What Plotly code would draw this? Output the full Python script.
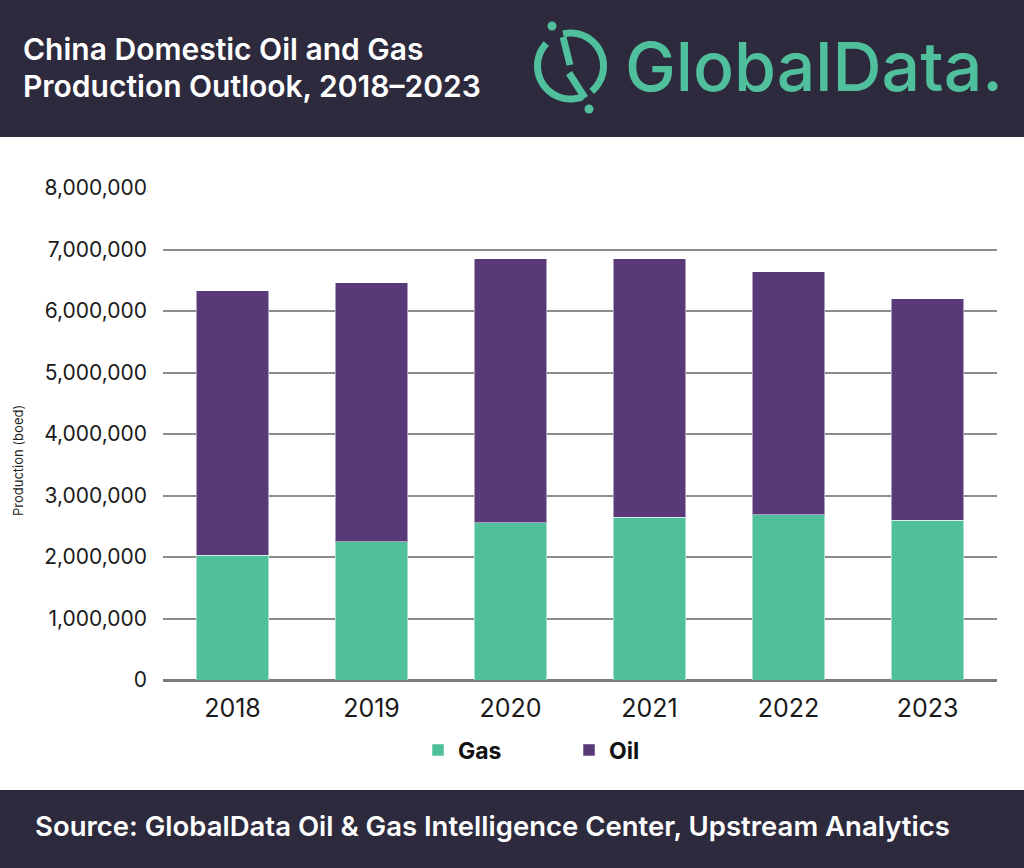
import math
import plotly.graph_objects as go

# ---- data ----
years = ["2018", "2019", "2020", "2021", "2022", "2023"]
gas = [2030000, 2250000, 2560000, 2650000, 2690000, 2600000]
oil = [4300000, 4210000, 4290000, 4200000, 3950000, 3600000]
y_ticks = [0, 1000000, 2000000, 3000000, 4000000, 5000000, 6000000, 7000000, 8000000]

GREEN = "#4fbf9c"
PURPLE = "#583a78"
DARK = "#2d2a3e"
FONT = "Inter"

WIDTH, HEIGHT = 1024, 868
L, R, T, B = 163, 27, 188, 188
PW = WIDTH - L - R
PH = HEIGHT - T - B


def px(x, y):
    return (x - L) / PW, (HEIGHT - B - y) / PH


fig = go.Figure()
fig.add_trace(go.Bar(x=years, y=gas, name="Gas",
                     marker=dict(color=GREEN, line=dict(width=1, color="rgba(255,255,255,0.5)"))))
fig.add_trace(go.Bar(x=years, y=oil, name="Oil",
                     marker=dict(color=PURPLE, line=dict(width=1, color="rgba(255,255,255,0.5)"))))

shapes = []
# header and footer bands
x0, y0 = px(0, 137)
x1, y1 = px(WIDTH, 0)
shapes.append(dict(type="rect", xref="paper", yref="paper", x0=x0, x1=x1, y0=y0, y1=y1,
                   fillcolor=DARK, line=dict(width=0), layer="below"))
x0, y0 = px(0, HEIGHT)
x1, y1 = px(WIDTH, 790)
shapes.append(dict(type="rect", xref="paper", yref="paper", x0=x0, x1=x1, y0=y0, y1=y1,
                   fillcolor=DARK, line=dict(width=0), layer="below"))

# logo icon (decoration)
cx, cy, rr = 570.5, 66, 33


def arc_path(a0, a1, n=40):
    pts = []
    for i in range(n + 1):
        a = math.radians(a0 + (a1 - a0) * i / n)
        pts.append(px(cx + rr * math.cos(a), cy + rr * math.sin(a)))
    return "M " + " L ".join(f"{p[0]:.5f},{p[1]:.5f}" for p in pts)


for a0, a1 in [(-103, 50), (69, 223)]:
    shapes.append(dict(type="path", xref="paper", yref="paper", path=arc_path(a0, a1),
                       line=dict(color=GREEN, width=7)))
for (ax0, ay0), (ax1, ay1) in [((563, 37), (570, 65)), ((569, 73), (585, 98))]:
    p0 = px(ax0, ay0)
    p1 = px(ax1, ay1)
    shapes.append(dict(type="line", xref="paper", yref="paper", x0=p0[0], y0=p0[1], x1=p1[0], y1=p1[1],
                       line=dict(color=GREEN, width=7)))
for dx, dy in [(552, 26), (589, 109)]:
    a = px(dx - 4.5, dy + 4.5)
    b = px(dx + 4.5, dy - 4.5)
    shapes.append(dict(type="circle", xref="paper", yref="paper", x0=a[0], y0=a[1], x1=b[0], y1=b[1],
                       fillcolor=GREEN, line=dict(width=0)))

annotations = []
for line_text, line_y in [("China Domestic Oil and Gas", 49), ("Production Outlook, 2018–2023", 85.5)]:
    tx, ty = px(21, line_y)
    annotations.append(dict(text=line_text, xref="paper", yref="paper", x=tx, y=ty,
                            xanchor="left", yanchor="middle", align="left", showarrow=False,
                            font=dict(family=FONT, size=30, color="white", weight=600)))
gx, gy = px(623, 66.5)
annotations.append(dict(text="GlobalData.", xref="paper", yref="paper", x=gx, y=gy,
                        xanchor="left", yanchor="middle", showarrow=False,
                        font=dict(family=FONT, size=68, color=GREEN, weight=500)))
sx, sy = px(33, 826)
annotations.append(dict(text="Source: GlobalData Oil & Gas Intelligence Center, Upstream Analytics",
                        xref="paper", yref="paper", x=sx, y=sy, xanchor="left", yanchor="middle",
                        showarrow=False, font=dict(family=FONT, size=27.5, color="white", weight=600)))
yx, yy = px(18, 461)
annotations.append(dict(text="Production (boed)", xref="paper", yref="paper", x=yx, y=yy,
                        xanchor="center", yanchor="middle", textangle=-90, showarrow=False,
                        font=dict(family=FONT, size=13, color="#222222")))

lx, ly = px(418, 750)
fig.update_layout(
    width=WIDTH, height=HEIGHT,
    margin=dict(l=L, r=R, t=T, b=B),
    paper_bgcolor="white", plot_bgcolor="white",
    barmode="stack", bargap=0.48,
    showlegend=True,
    legend=dict(orientation="h", x=lx, y=ly, xanchor="left", yanchor="middle",
                font=dict(family=FONT, size=23, color="#111111", weight=700),
                entrywidth=106, entrywidthmode="pixels", traceorder="normal"),
    shapes=shapes, annotations=annotations,
    xaxis=dict(type="category", showgrid=False, showline=False, ticks="",
               tickfont=dict(family=FONT, size=25, color="#1a1a1a"), ticklabelstandoff=11),
    yaxis=dict(range=[0, 8000000], tickvals=y_ticks, tickformat=",", showgrid=True,
               gridcolor="#8c8c8c", gridwidth=2, zeroline=True, zerolinecolor="#7a7a7a", zerolinewidth=2.5,
               showline=False, ticks="", ticklabelstandoff=15,
               tickfont=dict(family=FONT, size=21, color="#1a1a1a")),
)

fig.write_html("out.html", config={"displayModeBar": False},
               post_script="document.body.style.margin='0';")
